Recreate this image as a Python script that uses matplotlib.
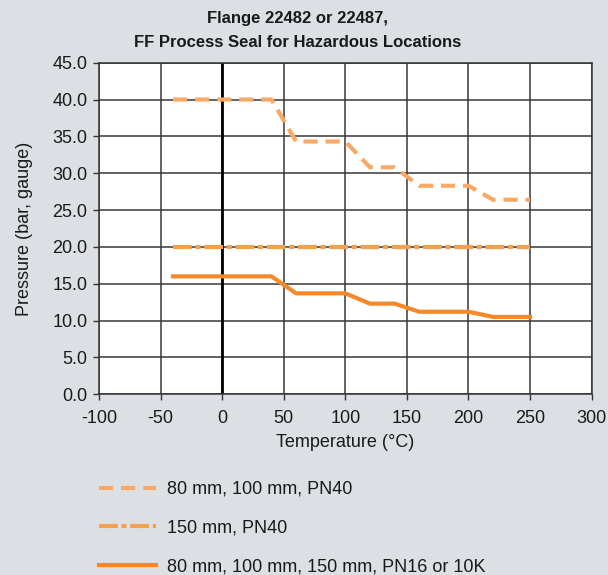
import matplotlib.pyplot as plt
from matplotlib.lines import Line2D

plt.rcParams['font.family'] = ['Liberation Sans', 'DejaVu Sans']
plt.rcParams['axes.unicode_minus'] = False

# data
temp_pn40 = [-40, 40, 60, 100, 120, 140, 160, 200, 220, 250]
press_pn40 = [40.0, 40.0, 34.3, 34.3, 30.8, 30.8, 28.3, 28.3, 26.4, 26.4]

temp_150 = [-40, 250]
press_150 = [20.0, 20.0]

temp_pn16 = [-40, 40, 60, 100, 120, 140, 160, 200, 220, 250]
press_pn16 = [16.0, 16.0, 13.7, 13.7, 12.3, 12.3, 11.2, 11.2, 10.5, 10.5]

labels = ['80 mm, 100 mm, PN40', '150 mm, PN40', '80 mm, 100 mm, 150 mm, PN16 or 10K']
colors = ['#f9a865', '#f7a04c', '#f5892a']
styles = [(0, (3.4, 1.9)), (0, (4.5, 0.9, 1.2, 0.9)), '-']

bg = '#dce0e4'
fig = plt.figure(figsize=(6.08, 5.75), dpi=100, facecolor=bg)
ax = fig.add_axes([0.163, 0.3143, 0.81, 0.5767])
ax.set_facecolor('white')

series = [(temp_pn40, press_pn40), (temp_150, press_150), (temp_pn16, press_pn16)]
for (t, p), c, s in zip(series, colors, styles):
    ax.plot(t, p, color=c, lw=3, ls=s, zorder=3)

ax.set_xlim(-100, 300)
ax.set_ylim(0, 45)
ax.set_xticks(range(-100, 301, 50))
ax.set_yticks([i * 5 for i in range(10)])
ax.yaxis.set_major_formatter(plt.FuncFormatter(lambda v, _: f'{v:.1f}'))

ax.grid(True, color='#383838', lw=1.1, zorder=1)
ax.axvline(0, color='black', lw=2, zorder=2)
for s in ax.spines.values():
    s.set_color('#333333')
    s.set_linewidth(1.1)

ax.tick_params(direction='out', length=4.5, width=1, color='#333333',
               labelsize=13, labelcolor='#1a1a1a', pad=4)
ax.tick_params(axis='x', pad=7)
ax.set_xlabel('Temperature (°C)', fontsize=13, color='#1a1a1a', labelpad=5)
ax.set_ylabel('Pressure (bar, gauge)', fontsize=13, color='#1a1a1a', labelpad=14)

fig.text(0.49, 0.981, 'Flange 22482 or 22487,\nFF Process Seal for Hazardous Locations',
         ha='center', va='top', fontsize=12, fontweight='bold', color='#1a1a1a',
         linespacing=1.75)

# legend drawn below the chart
handles = [Line2D([0], [0], color=c, lw=3, ls=s) for c, s in zip(colors, styles)]
fig.legend(handles, labels, loc='upper left', bbox_to_anchor=(0.136, 0.192),
           frameon=False, fontsize=13, handlelength=3.15, handletextpad=0.6,
           labelspacing=1.2, labelcolor='#1a1a1a')

fig.savefig('out.png', dpi=100, facecolor=bg)
